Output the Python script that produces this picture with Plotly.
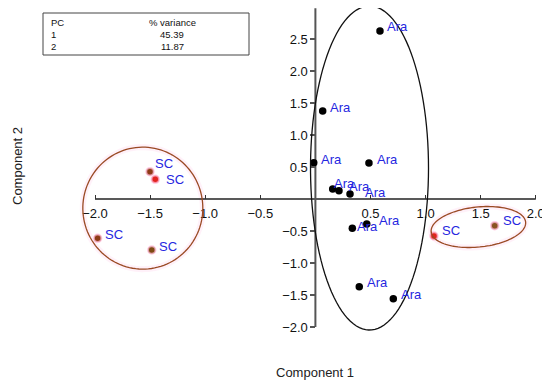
import numpy as np
import plotly.graph_objects as go

# ---------------- data ----------------
ara_x = [0.586, 0.066, -0.015, 0.486, 0.157, 0.214, 0.314, 0.335, 0.466, 0.398, 0.707]
ara_y = [2.625, 1.375, 0.567, 0.5625, 0.156, 0.130, 0.078, -0.458, -0.390, -1.370, -1.558]
ara_labels = ["Ara"] * 11

sc_x = [-1.501, -1.453, -1.976, -1.485, 1.076, 1.627]
sc_y = [0.427, 0.308, -0.614, -0.797, -0.578, -0.417]
sc_labels = ["SC"] * 6

x_ticks = [-2.0, -1.5, -1.0, -0.5, 0.5, 1.0, 1.5, 2.0]
y_ticks = [-2.0, -1.5, -1.0, -0.5, 0.5, 1.0, 1.5, 2.0, 2.5]
x_tick_text = ["−2.0", "−1.5", "−1.0", "−0.5", "0.5", "1.0", "1.5", "2.0"]
y_tick_text = ["−2.0", "−1.5", "−1.0", "−0.5", "0.5", "1.0", "1.5", "2.0", "2.5"]

pc_ids = ["1", "2"]
pc_variance = [45.39, 11.87]

# ---------------- styles ----------------
PAGE_W, PAGE_H = 550, 385
OFF = 8  # default page body margin
W, H = PAGE_W - OFF, PAGE_H - OFF
PX_PER_X, X0_PX = 110.2, 315.4
PX_PER_Y, Y0_PX = 64.0, 199.0
XR = [(OFF - X0_PX) / PX_PER_X, (PAGE_W - X0_PX) / PX_PER_X]
YR = [-(PAGE_H - Y0_PX) / PX_PER_Y, (Y0_PX - OFF) / PX_PER_Y]
SX = W / (XR[1] - XR[0])
SY = H / (YR[1] - YR[0])
Y_AXIS_TOP = 2.98


def px(xp):
    return (xp - OFF) / W


def py(yp):
    return 1 - (yp - OFF) / H


sc_colors = ["#8e3b16", "#e2231f", "#8e3b16", "#7d4a12", "#e2231f", "#8a5420"]
label_color = "#2626e0"
brown = "#9a4a24"

# label offsets in px (right, up)
ara_off = [(5, 4.3), (5.6, 3.7), (5.6, 3.7), (6, 4), (-1, 5.7), (8.3, 4), (12.7, 1.3),
           (2.7, 2.3), (10.6, 3.3), (5.7, 4), (6, 4.7)]
sc_off = [(3.3, 8.4), (8.7, -0.7), (5, 4.3), (5, 4), (6, 5), (6.7, 4.7)]

FONT = "Liberation Sans, Arial, sans-serif"

fig = go.Figure()


def ellipse_path(cx, cy, rx, ry, ang_deg, n=120):
    t = np.linspace(0, 2 * np.pi, n)
    a = np.deg2rad(ang_deg)
    u, v = rx * np.cos(t), ry * np.sin(t)
    ox = u * np.cos(a) - v * np.sin(a)
    oy = u * np.sin(a) + v * np.cos(a)
    xs = cx + ox / SX
    ys = cy + oy / SY
    return "M " + " L ".join(f"{x:.4f},{y:.4f}" for x, y in zip(xs, ys)) + " Z"


ellipses = [
    (-1.566, -0.143, 60, 61, 0, brown),
    (1.479, -0.4375, 47.5, 20, 6, brown),
    (0.491, 0.484, 59, 162, 0, "#111111"),
]
for cx, cy, rx, ry, ang, col in ellipses:
    path = ellipse_path(cx, cy, rx, ry, ang)
    if col == brown:
        fig.add_shape(type="path", path=path, xref="x", yref="y",
                      line=dict(color="rgba(255,200,230,0.25)", width=6), layer="below")
    fig.add_shape(type="path", path=path, xref="x", yref="y",
                  line=dict(color=col, width=1.3), layer="above")

# axis lines
fig.add_shape(type="line", x0=min(x_ticks), x1=max(x_ticks), y0=0, y1=0, xref="x", yref="y",
              line=dict(color="#222222", width=1.5), layer="below")
fig.add_shape(type="line", x0=0, x1=0, y0=min(y_ticks), y1=Y_AXIS_TOP, xref="x", yref="y",
              line=dict(color="#555555", width=2), layer="below")

# points
fig.add_trace(go.Scatter(x=ara_x, y=ara_y, mode="markers",
                         marker=dict(color="black", size=7.5), cliponaxis=False,
                         hoverinfo="skip", showlegend=False))
fig.add_trace(go.Scatter(x=sc_x, y=sc_y, mode="markers",
                         marker=dict(color=sc_colors, size=7.5,
                                     line=dict(color="rgba(255,185,215,0.7)", width=2)),
                         cliponaxis=False, hoverinfo="skip", showlegend=False))

# labels
for xs, ys, labs, offs in [(ara_x, ara_y, ara_labels, ara_off), (sc_x, sc_y, sc_labels, sc_off)]:
    for x, y, lab, (dx, dy) in zip(xs, ys, labs, offs):
        fig.add_annotation(x=x, y=y, text=lab, showarrow=False, xanchor="left", yanchor="middle",
                           xshift=dx, yshift=dy, font=dict(family=FONT, size=13, color=label_color))

# table
fig.add_shape(type="rect", xref="paper", yref="paper",
              x0=px(43), x1=px(249), y0=py(55), y1=py(13),
              line=dict(color="#444444", width=1))
tfont = dict(family=FONT, size=9.5, color="#111111")
fig.add_annotation(x=px(49), y=py(23), xref="paper", yref="paper", text="PC",
                   showarrow=False, xanchor="left", yanchor="middle", font=tfont)
fig.add_annotation(x=px(172), y=py(23), xref="paper", yref="paper", text="% variance",
                   showarrow=False, xanchor="center", yanchor="middle", font=tfont)
for i, (pid, var) in enumerate(zip(pc_ids, pc_variance)):
    yy = py(34.5 + 11.5 * i)
    fig.add_annotation(x=px(49), y=yy, xref="paper", yref="paper", text=pid,
                       showarrow=False, xanchor="left", yanchor="middle", font=tfont)
    fig.add_annotation(x=px(172), y=yy, xref="paper", yref="paper", text=f"{var:.2f}",
                       showarrow=False, xanchor="center", yanchor="middle", font=tfont)

# axis titles
fig.add_annotation(x=px(315), y=py(372), xref="paper", yref="paper", text="Component 1",
                   showarrow=False, xanchor="center", yanchor="middle",
                   font=dict(family=FONT, size=13, color="#222222"))
fig.add_annotation(x=px(17), y=py(166), xref="paper", yref="paper", text="Component 2",
                   showarrow=False, xanchor="center", yanchor="middle", textangle=-90,
                   font=dict(family=FONT, size=13, color="#222222"))

xpos = (0 - YR[0]) / (YR[1] - YR[0])
ypos = (0 - XR[0]) / (XR[1] - XR[0])

fig.update_layout(
    width=W, height=H,
    margin=dict(l=0, r=0, t=0, b=0),
    paper_bgcolor="white", plot_bgcolor="white",
    xaxis=dict(range=XR, anchor="free", position=xpos, showgrid=False, zeroline=False,
               showline=False, tickmode="array", tickvals=x_ticks, ticktext=x_tick_text,
               ticks="inside", ticklen=4, tickwidth=1.3, tickcolor="#333333",
               ticklabelstandoff=5,
               tickfont=dict(family=FONT, size=13, color="#111111"), automargin=False,
               fixedrange=True),
    yaxis=dict(range=YR, anchor="free", position=ypos, showgrid=False, zeroline=False,
               showline=False, tickmode="array", tickvals=y_ticks, ticktext=y_tick_text,
               ticks="outside", ticklen=5, tickwidth=1.5, tickcolor="#555555",
               tickfont=dict(family=FONT, size=13, color="#111111"), automargin=False,
               fixedrange=True),
    showlegend=False,
)

fig.write_html("out.html")
